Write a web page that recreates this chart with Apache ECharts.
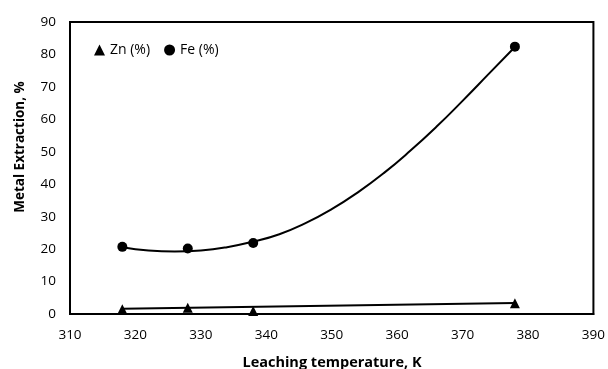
<!DOCTYPE html>
<html>
<head>
<meta charset="utf-8">
<script src="https://cdn.jsdelivr.net/npm/echarts@6/dist/echarts.min.js"></script>
<style>html,body{margin:0;padding:0;background:#fff}#c{width:608px;height:369px}</style>
</head>
<body>
<div id="c"></div>
<script>
var temps = [318, 328, 338, 378];
var znValues = [1.5, 1.9, 0.9, 3.3];
var feValues = [20.7, 20.2, 21.9, 82.4];
var feTrendX = [318, 322, 326, 330, 334, 338, 342, 346, 350, 354, 358, 362, 366, 370, 374, 378];
var feTrendY = [20.6, 19.6, 19.3, 19.6, 20.6, 22.3, 24.6, 28.0, 32.3, 37.5, 43.5, 50.3, 57.7, 65.7, 74.0, 82.3];
var znTrendX = [318, 378];
var znTrendY = [1.6, 3.4];
var xTicks = [310, 320, 330, 340, 350, 360, 370, 380, 390];
var yTicks = [0, 10, 20, 30, 40, 50, 60, 70, 80, 90];
var xTitle = 'Leaching temperature, K';
var yTitle = 'Metal Extraction, %';

function pairs(xs, ys) { return xs.map(function (x, i) { return [x, ys[i]]; }); }

var font = '"Open Sans", Lato, sans-serif';
var chart = echarts.init(document.getElementById('c'));
chart.setOption({
  animation: false,
  grid: { left: 70, top: 22, right: 13, bottom: 55, show: true, borderColor: '#000', borderWidth: 2, backgroundColor: 'transparent' },
  legend: {
    left: 89, top: 38, itemWidth: 11, itemHeight: 11, itemGap: 14,
    textStyle: { fontFamily: font, fontSize: 14, color: '#000' },
    data: [{ name: 'Zn (%)', icon: 'triangle' }, { name: 'Fe (%)', icon: 'circle' }]
  },
  graphic: [
    { type: 'text', x: 20, y: 147, rotation: Math.PI / 2,
      style: { text: yTitle, fontFamily: font, fontSize: 13.5, fontWeight: 'bold', fill: '#000', align: 'center', verticalAlign: 'middle' } },
    { type: 'text', x: 332, y: 363,
      style: { text: xTitle, fontFamily: font, fontSize: 14.5, fontWeight: 'bold', fill: '#000', align: 'center', verticalAlign: 'middle' } }
  ],
  xAxis: {
    type: 'value', min: xTicks[0], max: xTicks[xTicks.length - 1], interval: 10,
    axisLine: { show: true, lineStyle: { color: '#000', width: 2 } },
    axisTick: { show: false },
    splitLine: { show: false },
    axisLabel: { fontFamily: font, fontSize: 13.5, color: '#000', margin: 14 }
  },
  yAxis: {
    type: 'value', min: yTicks[0], max: yTicks[yTicks.length - 1], interval: 10,
    axisLine: { show: true, lineStyle: { color: '#000', width: 2 } },
    axisTick: { show: false },
    splitLine: { show: false },
    axisLabel: { fontFamily: font, fontSize: 13.5, color: '#000', margin: 14 }
  },
  series: [
    { name: 'Zn trend', type: 'line', data: pairs(znTrendX, znTrendY), showSymbol: false, symbol: 'none',
      lineStyle: { color: '#000', width: 2 }, z: 2 },
    { name: 'Fe trend', type: 'line', data: pairs(feTrendX, feTrendY), smooth: 0.5, showSymbol: false, symbol: 'none',
      lineStyle: { color: '#000', width: 2 }, z: 2 },
    { name: 'Zn (%)', type: 'scatter', data: pairs(temps, znValues), symbol: 'triangle', symbolSize: 10,
      itemStyle: { color: '#000', opacity: 1 }, z: 3 },
    { name: 'Fe (%)', type: 'scatter', data: pairs(temps, feValues), symbol: 'circle', symbolSize: 10,
      itemStyle: { color: '#000', opacity: 1 }, z: 3 }
  ]
});
</script>
</body>
</html>
